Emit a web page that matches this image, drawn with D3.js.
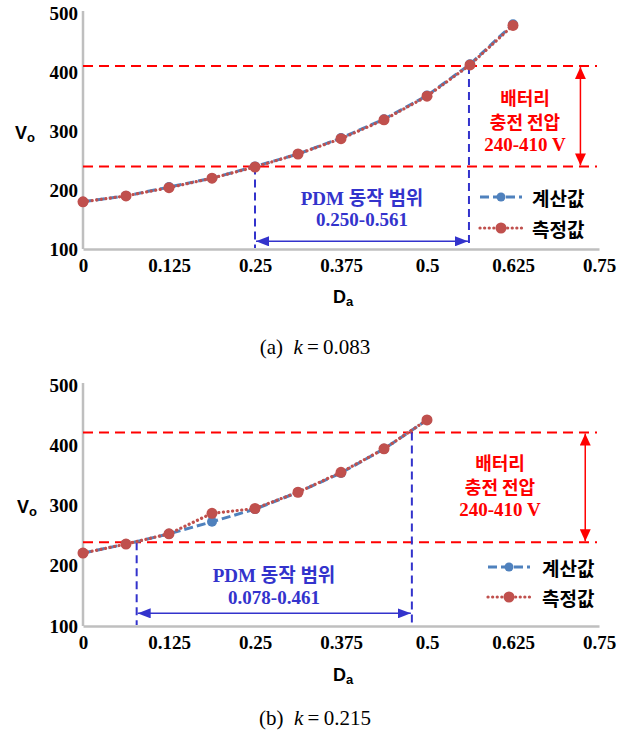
<!DOCTYPE html>
<html><head><meta charset="utf-8">
<script src="https://cdn.jsdelivr.net/npm/d3@7"></script>
<style>body{margin:0;background:#fff}</style>
</head><body>
<svg id="c" width="630" height="733" xmlns="http://www.w3.org/2000/svg"></svg>
<script>
// ---------- data ----------
const xTicks = [0, 0.125, 0.25, 0.375, 0.5, 0.625, 0.75];
const yTicks = [100, 200, 300, 400, 500];
const legendLabels = ["계산값", "측정값"];
const batteryText = ["배터리", "충전 전압", "240-410 V"];
const pdmTitle = "PDM 동작 범위";

const daA   = [0, 0.0625, 0.125, 0.1875, 0.25, 0.3125, 0.375, 0.4375, 0.5, 0.5625, 0.625];
const calcA = [180, 190, 205, 220, 240, 261, 288, 320, 360, 413, 481];
const measA = [180, 190, 204, 220, 239, 261, 287, 319, 359, 412, 479];
const batteryA = [240, 410];
const pdmA = [0.25, 0.561];
const pdmLabelA = "0.250-0.561";
const captionA = ["(a)", "0.083"];

const daB   = [0, 0.0625, 0.125, 0.1875, 0.25, 0.3125, 0.375, 0.4375, 0.5];
const calcB = [221, 236, 253, 273, 294, 322, 354, 394, 442];
const measB = [221, 236, 253, 287, 295, 322, 355, 394, 442];
const batteryB = [239, 421];
const pdmB = [0.078, 0.478];
const pdmLabelB = "0.078-0.461";
const captionB = ["(b)", "0.215"];

// ---------- drawing ----------
const svg = d3.select("#c");
const RED = "#ff0000", BLUE = "#3333cc", CALC = "#4f81bd", MEAS = "#c0504d", AXIS = "#bfbfbf";
const SERIF = "'Liberation Serif','Times New Roman',serif";
const KSERIF = "'Liberation Serif','Noto Sans CJK KR',serif";
const SANS = "'Liberation Sans',Arial,sans-serif";
const KSANS = "'Noto Sans CJK KR','Liberation Sans',sans-serif";

const defs = svg.append("defs");
function arrowMarker(id, color, w, h) {
  const m = defs.append("marker").attr("id", id)
    .attr("markerUnits", "userSpaceOnUse")
    .attr("viewBox", `0 0 ${w} ${h}`).attr("refX", w).attr("refY", h / 2)
    .attr("markerWidth", w).attr("markerHeight", h).attr("orient", "auto-start-reverse");
  m.append("path").attr("d", `M0,0L${w},${h/2}L0,${h}Z`).attr("fill", color);
}
arrowMarker("arrRed", RED, 12, 11);
arrowMarker("arrBlue", BLUE, 13, 10);

function panel(cfg) {
  const g = svg.append("g");
  const x = d3.scaleLinear().domain([0, 0.75]).range([83, 599]);
  const y = d3.scaleLinear().domain([100, 500]).range([cfg.y100, cfg.y500]);

  // axes
  const ya = g.append("g").attr("transform", "translate(83,0)")
    .call(d3.axisLeft(y).tickValues(yTicks).tickSize(0).tickPadding(5));
  const xa = g.append("g").attr("transform", `translate(0,${cfg.y100})`)
    .call(d3.axisBottom(x).tickValues(xTicks).tickFormat(d => String(d)).tickSize(0).tickPadding(10));
  [ya, xa].forEach(a => {
    a.select(".domain").attr("stroke", AXIS).attr("stroke-width", 2.5);
    a.selectAll("text").attr("font-family", SERIF).attr("font-weight", "bold")
      .attr("font-size", 19).attr("fill", "#000");
  });
  ya.select(".domain").attr("d", `M0,${y(500) - 2}V${y(100)}`);

  // battery voltage lines
  cfg.battery.forEach(v => {
    g.append("line").attr("x1", x(0)).attr("x2", x(0.75) - 2)
      .attr("y1", y(v)).attr("y2", y(v))
      .attr("stroke", RED).attr("stroke-width", 2).attr("stroke-dasharray", "10,6");
  });

  // PDM range verticals
  g.append("line").attr("x1", x(cfg.pdm[0])).attr("x2", x(cfg.pdm[0]))
    .attr("y1", y(cfg.battery[0])).attr("y2", y(100) - 1)
    .attr("stroke", BLUE).attr("stroke-width", 2).attr("stroke-dasharray", "8,5");
  g.append("line").attr("x1", x(cfg.pdm[1])).attr("x2", x(cfg.pdm[1]))
    .attr("y1", y(cfg.battery[1])).attr("y2", y(100) - 1)
    .attr("stroke", BLUE).attr("stroke-width", 2).attr("stroke-dasharray", "8,5");

  // PDM arrow
  g.append("line").attr("x1", x(cfg.pdm[0]) + 1).attr("x2", x(cfg.pdm[1]) - 1)
    .attr("y1", y(cfg.arrowV)).attr("y2", y(cfg.arrowV))
    .attr("stroke", BLUE).attr("stroke-width", 1.5)
    .attr("marker-start", "url(#arrBlue)").attr("marker-end", "url(#arrBlue)");

  // battery arrow
  g.append("line").attr("x1", x(cfg.battX)).attr("x2", x(cfg.battX))
    .attr("y1", y(cfg.battery[1]) + 1).attr("y2", y(cfg.battery[0]) - 1)
    .attr("stroke", RED).attr("stroke-width", 1.5)
    .attr("marker-start", "url(#arrRed)").attr("marker-end", "url(#arrRed)");

  // series
  const line = d3.line().x(d => x(d[0])).y(d => y(d[1]));
  const calc = cfg.da.map((d, i) => [d, cfg.calc[i]]);
  const meas = cfg.da.map((d, i) => [d, cfg.meas[i]]);
  g.append("path").attr("d", line(calc)).attr("fill", "none")
    .attr("stroke", CALC).attr("stroke-width", 3).attr("stroke-dasharray", "9,4");
  g.selectAll(null).data(calc).enter().append("circle")
    .attr("cx", d => x(d[0])).attr("cy", d => y(d[1])).attr("r", 5).attr("fill", CALC);
  g.append("path").attr("d", line(meas)).attr("fill", "none")
    .attr("stroke", MEAS).attr("stroke-width", 3.2).attr("stroke-dasharray", "0.1,4.5")
    .attr("stroke-linecap", "round");
  g.selectAll(null).data(meas).enter().append("circle")
    .attr("cx", d => x(d[0])).attr("cy", d => y(d[1])).attr("r", 5.5).attr("fill", MEAS);

  // battery text
  batteryText.forEach((t, i) => {
    g.append("text").attr("x", cfg.battTextX).attr("y", cfg.battTextY[i])
      .attr("text-anchor", "middle").attr("dominant-baseline", "central")
      .attr("font-family", i === 2 ? SERIF : KSANS).attr("font-weight", "bold")
      .attr("font-size", i === 2 ? 19 : 18).attr("fill", RED).text(t);
  });

  // PDM text
  [pdmTitle, cfg.pdmLabel].forEach((t, i) => {
    g.append("text").attr("x", cfg.pdmTextX).attr("y", cfg.pdmTextY[i])
      .attr("text-anchor", "middle").attr("dominant-baseline", "central")
      .attr("font-family", KSERIF).attr("font-weight", "bold")
      .attr("font-size", 19).attr("fill", BLUE).text(t);
  });

  // legend
  const lg = cfg.legend;
  [[CALC, "9,4", 3, "butt", 4.5], [MEAS, "0.1,4.5", 3.2, "round", 5.5]].forEach((s, i) => {
    const yy = lg.y[i];
    g.append("line").attr("x1", lg.x0).attr("x2", lg.x1).attr("y1", yy).attr("y2", yy)
      .attr("stroke", s[0]).attr("stroke-width", s[2]).attr("stroke-dasharray", s[1])
      .attr("stroke-linecap", s[3]);
    g.append("circle").attr("cx", (lg.x0 + lg.x1) / 2).attr("cy", yy).attr("r", s[4]).attr("fill", s[0]);
    g.append("text").attr("x", lg.tx).attr("y", yy).attr("dominant-baseline", "central")
      .attr("font-family", KSANS).attr("font-weight", "bold").attr("font-size", 19)
      .attr("fill", "#000").text(legendLabels[i]);
  });

  // axis titles
  const vt = g.append("text").attr("x", cfg.voX).attr("y", cfg.voY)
    .attr("font-family", SANS).attr("font-weight", "bold").attr("font-size", 18).attr("fill", "#000");
  vt.append("tspan").text("V");
  vt.append("tspan").attr("font-size", 13).attr("dy", 3).text("o");
  const dt = g.append("text").attr("x", 333).attr("y", cfg.daY)
    .attr("font-family", SANS).attr("font-weight", "bold").attr("font-size", 18).attr("fill", "#000");
  dt.append("tspan").text("D");
  dt.append("tspan").attr("font-size", 13).attr("dy", 3).text("a");

  // caption
  const ct = g.append("text").attr("x", 315).attr("y", cfg.capY).attr("text-anchor", "middle")
    .attr("font-family", SERIF).attr("font-size", 21).attr("fill", "#000");
  ct.append("tspan").text(cfg.caption[0] + "\u00a0\u00a0");
  ct.append("tspan").attr("font-style", "italic").text("k");
  ct.append("tspan").text("\u2009=\u2009" + cfg.caption[1]);
}

panel({
  y100: 249, y500: 13, da: daA, calc: calcA, meas: measA, battery: batteryA, pdm: pdmA,
  arrowV: 113, battX: 0.723, battTextX: 525, battTextY: [97, 121, 144],
  pdmTextX: 362, pdmTextY: [198, 219], pdmLabel: pdmLabelA,
  legend: { x0: 480, x1: 522, y: [197, 228], tx: 532 },
  voX: 15, voY: 139, daY: 303, capY: 354, caption: captionA
});
panel({
  y100: 626, y500: 385, da: daB, calc: calcB, meas: measB, battery: batteryB, pdm: pdmB,
  arrowV: 121, battX: 0.73, battTextX: 500, battTextY: [462, 486, 509],
  pdmTextX: 274, pdmTextY: [575, 597], pdmLabel: pdmLabelB,
  legend: { x0: 488, x1: 530, y: [567, 597], tx: 542 },
  voX: 17, voY: 513, daY: 681, capY: 725, caption: captionB
});
</script>
</body></html>
